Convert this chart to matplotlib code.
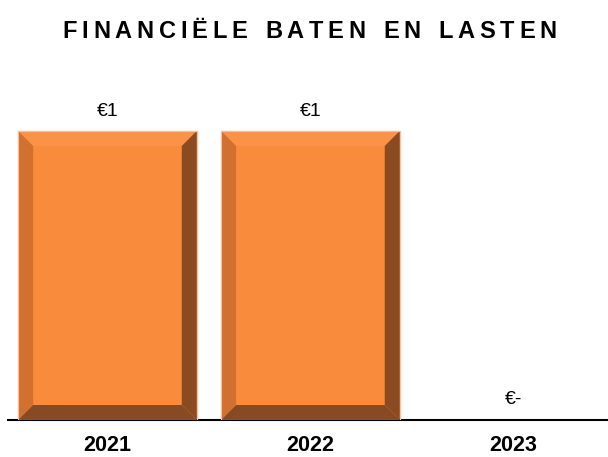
import matplotlib
matplotlib.use("Agg")
import matplotlib.pyplot as plt
from matplotlib.patches import Polygon

categories = ["2021", "2022", "2023"]
values = [1, 1, 0]
value_labels = ["€1", "€1", "€-"]
title = "FINANCIËLE BATEN EN LASTEN"

W, H = 608, 457
fig = plt.figure(figsize=(W / 100, H / 100), dpi=100)
plt.rcParams['font.family'] = ['Liberation Sans', 'DejaVu Sans']

ax_l, ax_r, ax_b, ax_t = 8, 608, 420, 60
ax = fig.add_axes([ax_l / W, (H - ax_b) / H, (ax_r - ax_l) / W, (ax_b - ax_t) / H])
xmin, xmax = -0.490, 2.466
ymin, ymax = 0, 1.2457
ax.set_xlim(xmin, xmax)
ax.set_ylim(ymin, ymax)

face = "#F98B3C"
top_c = "#FA9247"
left_c = "#D2702F"
right_c = "#8C4A20"
bottom_c = "#874A22"
edge_c = "#F2C4A4"
bw = 0.88

xpx = (ax_r - ax_l) / (xmax - xmin)
ypx = (ax_b - ax_t) / (ymax - ymin)
bev = 15
dx = bev / xpx
dy = bev / ypx

x = list(range(len(categories)))
bars = ax.bar(x, values, width=bw, color=face, edgecolor=edge_c, linewidth=1.0, zorder=2)
for b, v in zip(bars, values):
    if v <= 0:
        continue
    x0 = b.get_x(); x1 = x0 + b.get_width(); y0 = 0; y1 = v
    polys = [
        ([(x0, y1), (x1, y1), (x1 - dx, y1 - dy), (x0 + dx, y1 - dy)], top_c),
        ([(x0, y0), (x0, y1), (x0 + dx, y1 - dy), (x0 + dx, y0 + dy)], left_c),
        ([(x1, y0), (x1, y1), (x1 - dx, y1 - dy), (x1 - dx, y0 + dy)], right_c),
        ([(x0, y0), (x1, y0), (x1 - dx, y0 + dy), (x0 + dx, y0 + dy)], bottom_c),
    ]
    for pts, c in polys:
        ax.add_patch(Polygon(pts, closed=True, facecolor=c, edgecolor='none', zorder=3))
    ax.add_patch(Polygon([(x0, y0), (x1, y0), (x1, y1), (x0, y1)], closed=True,
                         facecolor='none', edgecolor=edge_c, linewidth=0.8, zorder=4))

for xi, v, lab in zip(x, values, value_labels):
    ax.annotate(lab, (xi, v), xytext=(0, 8 if v > 0 else 9), textcoords='offset points',
                ha='center', va='bottom', fontsize=14, color='black')

for s in ['top', 'right', 'left']:
    ax.spines[s].set_visible(False)
ax.spines['bottom'].set_linewidth(1.5)
ax.spines['bottom'].set_color('black')
ax.set_yticks([])
ax.set_xticks(x)
ax.set_xticklabels(categories, fontsize=15.5, fontweight='bold')
ax.tick_params(axis='x', length=0, pad=11)

# letter-spaced title
fig.canvas.draw()
renderer = fig.canvas.get_renderer()
fs = 17
spacing = 4.8
widths = []
for ch in title:
    t = fig.text(0, 0, ch if ch != ' ' else 'n', fontsize=fs, fontweight='bold')
    w = t.get_window_extent(renderer).width
    if ch == ' ':
        w *= 0.55
    widths.append(w)
    t.remove()
total = sum(widths) + spacing * (len(title) - 1)
cx = 309.5
xpos = cx - total / 2
baseline = H - 38.5
for ch, w in zip(title, widths):
    if ch != ' ':
        fig.text(xpos / W, baseline / H, ch, fontsize=fs, fontweight='bold',
                 ha='left', va='baseline')
    xpos += w + spacing

fig.savefig("out.png", dpi=100)
